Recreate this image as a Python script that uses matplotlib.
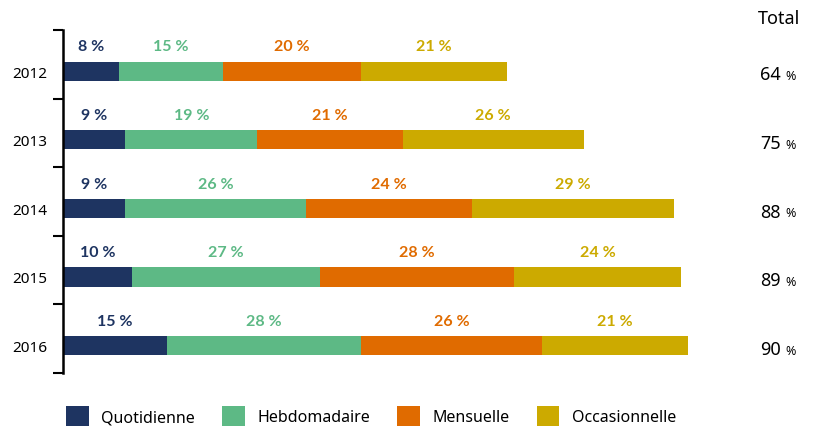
import matplotlib
import matplotlib.pyplot as plt
import numpy as np
from matplotlib.patches import Patch

matplotlib.use('Agg')

years = ['2012', '2013', '2014', '2015', '2016']
series = ['Quotidienne', 'Hebdomadaire', 'Mensuelle', 'Occasionnelle']
quotidienne = [8, 9, 9, 10, 15]
hebdomadaire = [15, 19, 26, 27, 28]
mensuelle = [20, 21, 24, 28, 26]
occasionnelle = [21, 26, 29, 24, 21]
totals = [64, 75, 88, 89, 90]

colors = ['#1e3461', '#5db985', '#e06b00', '#ccaa00']
plt.rcParams['font.family'] = ['Noto Sans', 'DejaVu Sans']

fig = plt.figure(figsize=(8.16, 4.27), dpi=100)
ax = fig.add_axes([63 / 816, 1 - 374 / 427, 637 / 816, 343 / 427])

values = np.array([quotidienne, hebdomadaire, mensuelle, occasionnelle])
y = np.arange(len(years))
left = np.zeros(len(years))
for k, name in enumerate(series):
    ax.barh(y, values[k], left=left, height=0.28, color=colors[k], label=name)
    for i in range(len(years)):
        ax.text(left[i] + values[k][i] / 2, y[i] - 0.36, f'{values[k][i]} %',
                ha='center', va='center', fontsize=11.5, fontweight='bold',
                family=['Lato', 'DejaVu Sans'], color=colors[k])
    left += values[k]

ax.set_xlim(0, 637 / 6.94)
# bars sit a little below the middle of each band
ax.set_ylim(len(years) - 0.6, -0.6)
ax.set_yticks(y)
ax.set_yticklabels(years, fontsize=11)
ax.set_yticks(np.arange(-0.6, len(years)), minor=True)
ax.tick_params(axis='y', which='major', length=0, pad=11.5)
ax.tick_params(axis='y', which='minor', length=7, width=1.5, direction='out')
ax.set_xticks([])
for s in ['top', 'right', 'bottom']:
    ax.spines[s].set_visible(False)
ax.spines['left'].set_linewidth(1.8)

# totals column on the right
fig.text(800 / 816, 1 - 19 / 427, 'Total', ha='right', va='center', fontsize=13)
for i, t in enumerate(totals):
    yc = 1 - (72.5 + 68.6 * i + 3) / 427
    fig.text(781 / 816, yc, str(t), ha='right', va='center', fontsize=13)
    fig.text(785 / 816, yc - 0.003, '%', ha='left', va='center', fontsize=9)

handles = [Patch(facecolor=c, label=s) for c, s in zip(colors, series)]
fig.legend(handles=handles, loc='lower center', ncol=4, bbox_to_anchor=(0.455, -0.034),
           frameon=False, fontsize=11.5, handlelength=1.4, handleheight=1.55,
           columnspacing=1.7, handletextpad=0.8)

fig.savefig('out.png', dpi=100)
